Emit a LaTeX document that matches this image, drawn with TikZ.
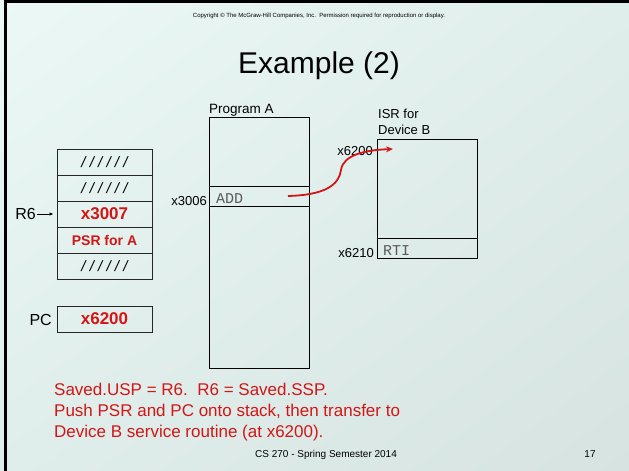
\documentclass[tikz,border=0pt]{standalone}
\usepackage{fontspec}
\setmainfont{Liberation Sans}
\newfontfamily\monof{Liberation Mono}
\usetikzlibrary{arrows.meta,shadings}
\definecolor{slidered}{RGB}{210,22,22}
\definecolor{bgA}{RGB}{235,248,245}
\definecolor{bgM}{RGB}{224,238,235}
\definecolor{bgB}{RGB}{214,227,224}
\definecolor{codegray}{RGB}{90,90,90}
\newcommand{\slashrow}{/\hspace{4.2pt}/\hspace{4.2pt}/\hspace{4.2pt}/\hspace{4.2pt}/\hspace{4.2pt}/}
\tikzset{
  cell/.style={draw=black!85, line width=0.9pt, minimum width=95pt, minimum height=26pt, inner sep=0pt},
  mem/.style={draw=black, line width=0.9pt, inner sep=0pt},
  lbl/.style={inner sep=0pt, font=\fontsize{13}{15}\selectfont},
  redbold/.style={text=slidered, font=\bfseries\fontsize{17}{19}\selectfont},
  slashes/.style={font=\itshape\fontsize{15}{17}\selectfont},
  code/.style={text=codegray, font=\monof\fontsize{15}{17}\selectfont},
  noteline/.style={anchor=base west, inner sep=0pt, text=slidered, font=\fontsize{17}{21}\selectfont}
}
\begin{document}
\begin{tikzpicture}[x=1pt,y=-1pt]
\useasboundingbox (0,0) rectangle (629,471);
\shade[upper left=bgA, upper right=bgM, lower left=bgM, lower right=bgB] (0,0) rectangle (629,471);
\draw[line width=3pt] (4,1.5) -- (629,1.5);
\draw[line width=3pt] (5,0) -- (5,471);

% header
\node[inner sep=0pt, anchor=base, font=\fontsize{6}{7}\selectfont] (copy) at (319,17) {Copyright \textcopyright{} The McGraw-Hill Companies, Inc.\ \ Permission required for reproduction or display.};
\node[inner sep=0pt, anchor=base, font=\fontsize{30}{34}\selectfont] (title) at (319,73) {Example (2)};

% stack
\node[cell, slashes] (s1) at (104.5,162) {\slashrow};
\node[cell, slashes] (s2) at (104.5,188) {\slashrow};
\node[cell, redbold] (s3) at (104.5,214) {x3007};
\node[cell, text=slidered, font=\bfseries\fontsize{14}{16}\selectfont] (s4) at (104.5,240) {PSR for A};
\node[cell, slashes] (s5) at (104.5,266) {\slashrow};
\node[inner sep=1pt, anchor=east, font=\fontsize{16}{18}\selectfont] (r6) at (37,214) {R6};
\draw[-{Latex[length=4pt,width=3.5pt]}, line width=0.8pt, shorten >=3pt] (r6.east) -- (s3.west);

\node[cell, redbold] (pc) at (104.5,319) {x6200};
\node[inner sep=1pt, anchor=east, font=\fontsize{16}{18}\selectfont] (pclbl) at (53,320) {PC};

% program A
\node[mem, minimum width=100pt, minimum height=251pt] (proga) at (259,242.5) {};
\node[mem, minimum width=100pt, minimum height=20pt] (add) at (259,196) {};
\node[code, anchor=base west, inner sep=0pt] (addtxt) at (216,203) {ADD};
\node[lbl, anchor=base west, font=\fontsize{13.5}{15}\selectfont] (progalbl) at (209,113) {Program A};
\node[lbl, anchor=base east] (x3006) at (207,205) {x3006};

% ISR
\node[mem, minimum width=100pt, minimum height=119pt] (isr) at (427,198.5) {};
\node[mem, minimum width=100pt, minimum height=20pt] (rti) at (427,248) {};
\node[code, anchor=base west, inner sep=0pt] (rtitxt) at (383,255) {RTI};
\node[lbl, anchor=base west] (isrlbl1) at (378,118) {ISR for};
\node[lbl, anchor=base west] (isrlbl2) at (378,134) {Device B};
\node[lbl, anchor=base east] (x6200) at (373,155) {x6200};
\node[lbl, anchor=base east] (x6210) at (374,257) {x6210};

% arrow
\coordinate (arrs) at (288,196);
\coordinate (arre) at (393,149);
\draw[slidered, line width=1.8pt, -{Stealth[length=7pt,width=6pt]}]
  (arrs) .. controls (325,195) and (339,185) .. (341,170)
         .. controls (343,155) and (365,150) .. (arre);

% bottom text
\node[noteline] (note1) at (54,395) {Saved.USP = R6.\ \ R6 = Saved.SSP.};
\node[noteline] (note2) at (54,416) {Push PSR and PC onto stack, then transfer to};
\node[noteline] (note3) at (54,437) {Device B service routine (at x6200).};

% footer
\node[anchor=base, inner sep=0pt, font=\fontsize{10}{12}\selectfont] (foot) at (326,457) {CS 270 - Spring Semester 2014};
\node[anchor=base, inner sep=0pt, font=\fontsize{10}{12}\selectfont] (pnum) at (590,457) {17};
\end{tikzpicture}
\end{document}
